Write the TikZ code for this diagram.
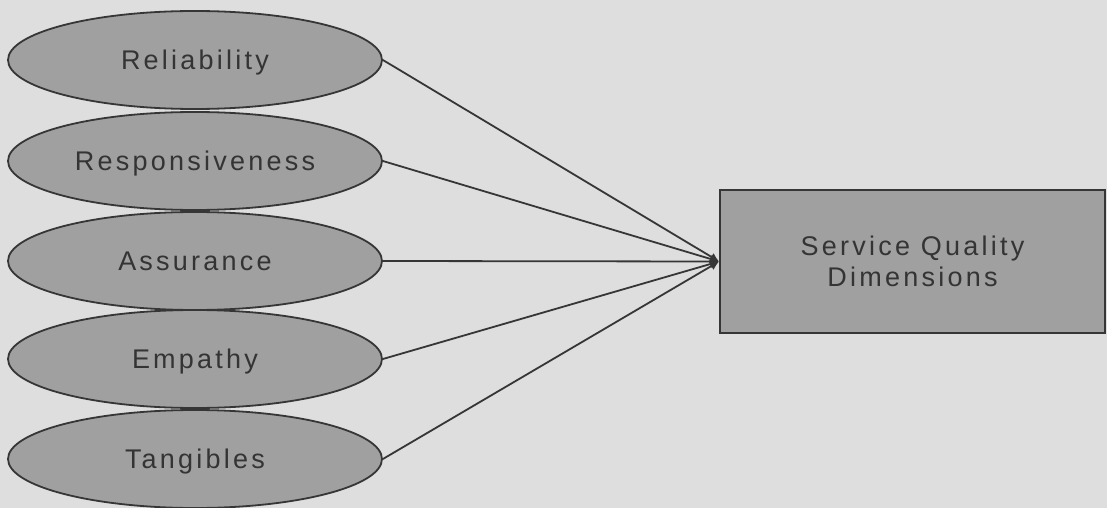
\documentclass[tikz,border=0pt]{standalone}
\usepackage{fontspec}
\setmainfont{Liberation Sans}[LetterSpace=12]
\usetikzlibrary{shapes.geometric,arrows.meta}
\definecolor{bg}{HTML}{DEDEDE}
\definecolor{fillg}{HTML}{A0A0A0}
\definecolor{edge}{HTML}{363636}
\definecolor{txt}{HTML}{343434}
\tikzset{
  dim/.style={ellipse, draw=edge, fill=fillg, line width=1.8pt, minimum width=374pt, minimum height=98pt, inner sep=0pt, text=txt, text depth=0pt, font=\fontsize{27}{31}\selectfont},
  target/.style={rectangle, draw=edge, fill=fillg, line width=1.8pt, minimum width=385pt, minimum height=143pt, inner sep=0pt, text=txt, align=center, font=\fontsize{27}{31}\selectfont},
  conn/.style={draw=edge, line width=1.8pt, -{Latex[length=9pt,width=9pt]}}
}
\begin{document}
\begin{tikzpicture}[x=1pt,y=-1pt]
\fill[bg] (0,0) rectangle (1107,508);
\useasboundingbox (0,0) rectangle (1107,508);
\node[dim] (rel) at (195,60) {Reliability};
\node[dim] (res) at (195,161) {Responsiveness};
\node[dim] (ass) at (195,261) {Assurance};
\node[dim] (emp) at (195,359) {Empathy};
\node[dim] (tan) at (195,459) {Tangibles};
\node[target] (sqd) at (912.5,261.5) {Service Quality\\Dimensions};
\foreach \n in {rel,res,ass,emp,tan} \draw[conn] (\n.east) -- (sqd.west);
\end{tikzpicture}
\end{document}
